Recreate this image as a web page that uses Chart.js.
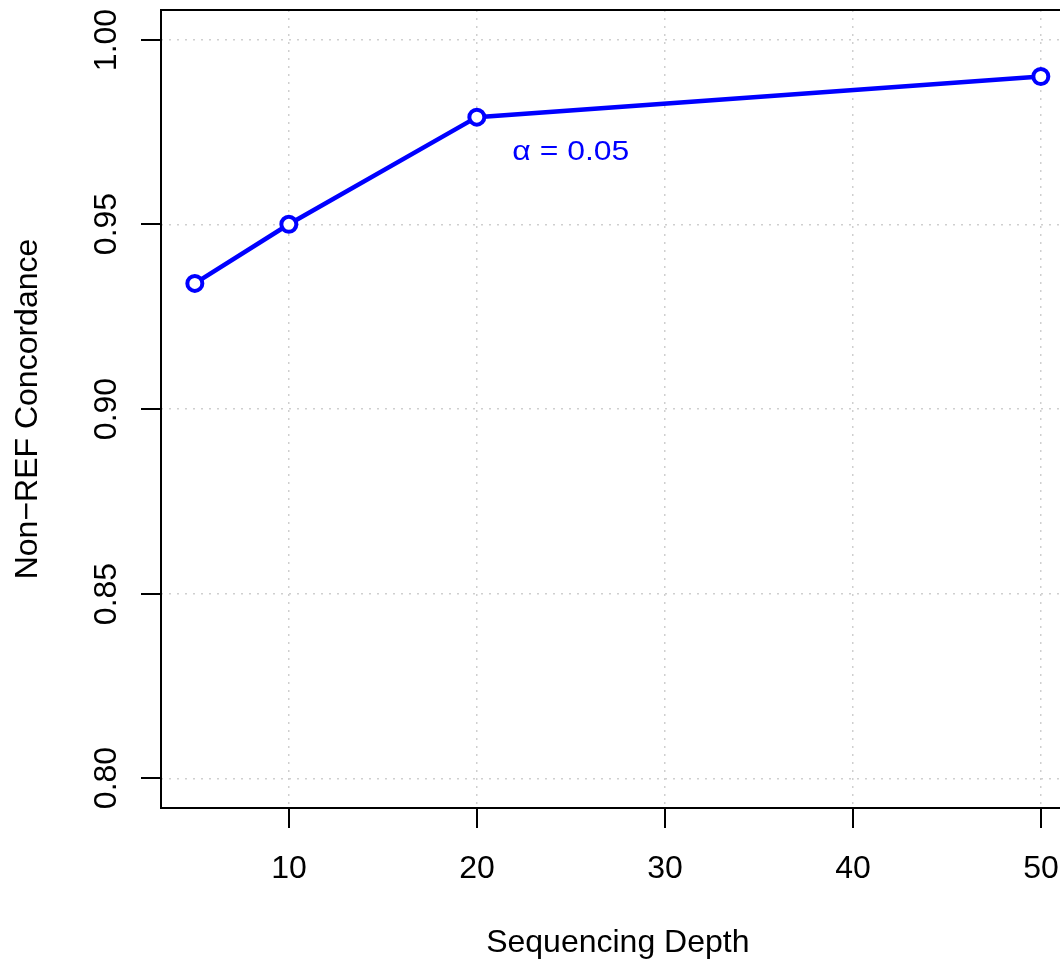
<!DOCTYPE html>
<html>
<head>
<meta charset="utf-8">
<title>Non-REF Concordance vs Sequencing Depth</title>
<script src="https://cdn.jsdelivr.net/npm/chart.js@4.4.1/dist/chart.umd.min.js"></script>
<style>
  html, body { margin: 0; padding: 0; background: #fff; overflow: hidden; }
  #wrap { width: 1060px; height: 963px; }
</style>
</head>
<body>
<div id="wrap"><canvas id="depthChart" width="1060" height="963"></canvas></div>
<script>
var depths = [5, 10, 20, 50];
var concordance = [0.934, 0.950, 0.979, 0.990];

var xTicks = [10, 20, 30, 40, 50];
var xTickLabels = ['10', '20', '30', '40', '50'];
var yTicks = [0.80, 0.85, 0.90, 0.95, 1.00];
var yTickLabels = ['0.80', '0.85', '0.90', '0.95', '1.00'];

var xTitle = 'Sequencing Depth';
var yTitle = 'Non\u2212REF Concordance';
var noteText = '\u03b1 = 0.05';
var notePos = [25, 0.97];

(function() {
  var FONT = '"Liberation Sans", Arial, Helvetica, sans-serif';
  // full plot range; the page only shows up to about x = 51
  var X_LIMIT = 51.8;

  // box, tick marks, tick labels, titles and the alpha note
  var framePlugin = {
    id: 'frame',
    afterDatasetsDraw: function(chart) {
      var ctx = chart.ctx;
      var area = chart.chartArea;
      var xs = chart.scales.x;
      var ys = chart.scales.y;
      var boxRight = xs.getPixelForValue(X_LIMIT);
      var midX = (area.left + boxRight) / 2;

      ctx.save();
      ctx.strokeStyle = '#000';
      ctx.lineWidth = 2;
      ctx.strokeRect(area.left, area.top, boxRight - area.left, area.bottom - area.top);

      ctx.fillStyle = '#000';
      ctx.font = '32px ' + FONT;
      ctx.textAlign = 'center';
      ctx.textBaseline = 'alphabetic';

      xTicks.forEach(function(v, i) {
        var px = Math.round(xs.getPixelForValue(v));
        ctx.beginPath();
        ctx.moveTo(px, area.bottom);
        ctx.lineTo(px, area.bottom + 20);
        ctx.stroke();
        ctx.fillText(xTickLabels[i], px, 878);
      });

      yTicks.forEach(function(v, i) {
        var py = Math.round(ys.getPixelForValue(v));
        ctx.beginPath();
        ctx.moveTo(area.left - 20, py);
        ctx.lineTo(area.left, py);
        ctx.stroke();
        ctx.save();
        ctx.translate(116, py);
        ctx.rotate(-Math.PI / 2);
        ctx.fillText(yTickLabels[i], 0, 0);
        ctx.restore();
      });

      ctx.fillText(xTitle, midX, 952);
      ctx.save();
      ctx.translate(37, (area.top + area.bottom) / 2);
      ctx.rotate(-Math.PI / 2);
      ctx.fillText(yTitle, 0, 0);
      ctx.restore();

      ctx.save();
      ctx.fillStyle = '#0000ff';
      ctx.font = '28px ' + FONT;
      ctx.translate(xs.getPixelForValue(notePos[0]), ys.getPixelForValue(notePos[1]) + 10);
      ctx.scale(1.14, 1);
      ctx.fillText(noteText, 0, 0);
      ctx.restore();

      ctx.restore();
    }
  };

  var gridOpts = {
    color: '#cfcfcf',
    lineWidth: 1.5,
    drawTicks: false
  };

  var ctx = document.getElementById('depthChart').getContext('2d');
  new Chart(ctx, {
    type: 'line',
    data: {
      datasets: [{
        label: 'Non-REF Concordance',
        data: depths.map(function(d, i) { return { x: d, y: concordance[i] }; }),
        borderColor: '#0000ff',
        borderWidth: 4.5,
        tension: 0,
        pointRadius: 7.5,
        pointBorderWidth: 4,
        pointBorderColor: '#0000ff',
        pointBackgroundColor: '#ffffff',
        clip: false
      }]
    },
    options: {
      responsive: false,
      animation: false,
      devicePixelRatio: 1,
      layout: { autoPadding: false, padding: { left: 161, top: 10, right: 0, bottom: 155 } },
      plugins: { legend: { display: false }, tooltip: { enabled: false } },
      scales: {
        x: {
          type: 'linear',
          min: 3.2,
          max: 51.02,
          afterBuildTicks: function(s) { s.ticks = xTicks.map(function(v) { return { value: v }; }); },
          ticks: { display: false },
          grid: gridOpts,
          border: { display: false, dash: [2, 6] }
        },
        y: {
          type: 'linear',
          min: 0.792,
          max: 1.008,
          afterBuildTicks: function(s) { s.ticks = yTicks.map(function(v) { return { value: v }; }); },
          ticks: { display: false },
          grid: gridOpts,
          border: { display: false, dash: [2, 6] }
        }
      }
    },
    plugins: [framePlugin]
  });
})();
</script>
</body>
</html>
